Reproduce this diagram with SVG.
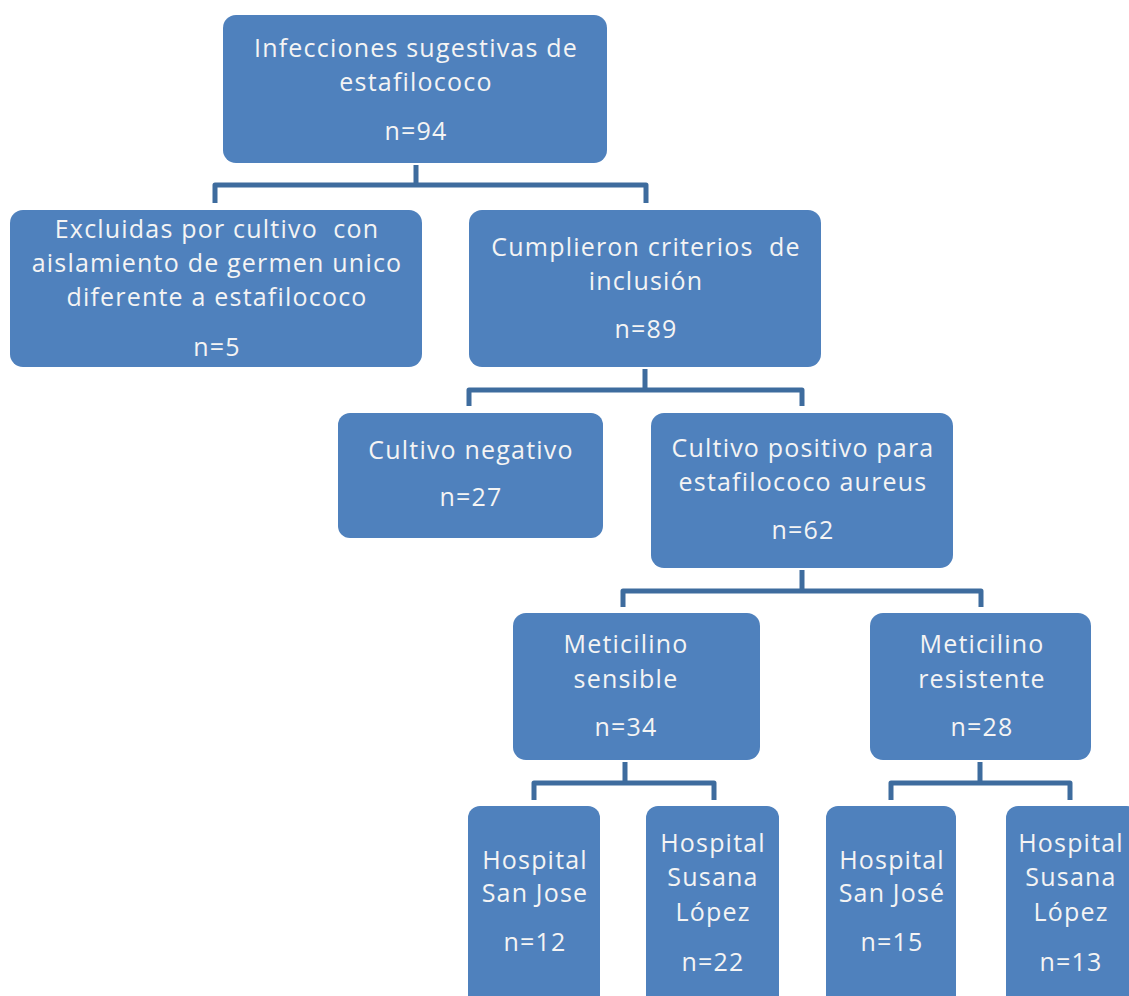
<svg xmlns="http://www.w3.org/2000/svg" width="1129" height="996" viewBox="0 0 1129 996">
  <style>
    .box { fill: #4F81BD; }
    .lbl { fill: #F4F4F4; font-family: "Open Sans", Lato, "Liberation Sans", sans-serif; font-size: 25px; letter-spacing: 1.2px; text-anchor: middle; font-variant-ligatures: none; }
    .conn { fill: none; stroke: #3E6C9E; stroke-width: 5; stroke-linejoin: round; stroke-linecap: butt; }
  </style>
  <rect width="1129" height="996" fill="#FFFFFF"/>

  <!-- bracket connectors: stem from parent, bar, drops to children -->
  <g id="connectors">
    <path class="conn" d="M416 165 V185 M215 203 V185 H646 V203"/>
    <path class="conn" d="M645 369 V390 M469 406 V390 H802 V406"/>
    <path class="conn" d="M802 570 V591 M623 607 V591 H981 V607"/>
    <path class="conn" d="M625 762 V783 M534 800 V783 H714 V800"/>
    <path class="conn" d="M980 762 V783 M891 800 V783 H1070 V800"/>
  </g>

  <g id="n-infecciones">
    <rect class="box" x="223" y="15" width="384" height="148" rx="13"/>
    <text class="lbl" x="416" y="57">Infecciones sugestivas de</text>
    <text class="lbl" x="416" y="91">estafilococo</text>
    <text class="lbl" x="416" y="140">n=94</text>
  </g>

  <g id="n-excluidas">
    <rect class="box" x="10" y="210" width="412" height="157" rx="13"/>
    <text class="lbl" x="217" y="238">Excluidas por cultivo&#160; con</text>
    <text class="lbl" x="217" y="272">aislamiento de germen unico</text>
    <text class="lbl" x="217" y="306">diferente a estafilococo</text>
    <text class="lbl" x="217" y="356">n=5</text>
  </g>

  <g id="n-cumplieron">
    <rect class="box" x="469" y="210" width="352" height="157" rx="13"/>
    <text class="lbl" x="646" y="256">Cumplieron criterios&#160; de</text>
    <text class="lbl" x="646" y="290">inclusión</text>
    <text class="lbl" x="646" y="338">n=89</text>
  </g>

  <g id="n-negativo">
    <rect class="box" x="338" y="413" width="265" height="125" rx="12"/>
    <text class="lbl" x="471" y="459">Cultivo negativo</text>
    <text class="lbl" x="471" y="506">n=27</text>
  </g>

  <g id="n-positivo">
    <rect class="box" x="651" y="413" width="302" height="155" rx="13"/>
    <text class="lbl" x="803" y="457">Cultivo positivo para</text>
    <text class="lbl" x="803" y="491">estafilococo aureus</text>
    <text class="lbl" x="803" y="539">n=62</text>
  </g>

  <g id="n-sensible">
    <rect class="box" x="513" y="613" width="247" height="147" rx="13"/>
    <text class="lbl" x="626" y="653">Meticilino</text>
    <text class="lbl" x="626" y="688">sensible</text>
    <text class="lbl" x="626" y="736">n=34</text>
  </g>

  <g id="n-resistente">
    <rect class="box" x="870" y="613" width="221" height="147" rx="13"/>
    <text class="lbl" x="982" y="653">Meticilino</text>
    <text class="lbl" x="982" y="688">resistente</text>
    <text class="lbl" x="982" y="736">n=28</text>
  </g>

  <g id="n-sms-sanjose">
    <rect class="box" x="468" y="806" width="132" height="210" rx="12"/>
    <text class="lbl" x="535" y="869">Hospital</text>
    <text class="lbl" x="535" y="902">San Jose</text>
    <text class="lbl" x="535" y="951">n=12</text>
  </g>

  <g id="n-sms-susana">
    <rect class="box" x="646" y="806" width="133" height="210" rx="12"/>
    <text class="lbl" x="713" y="852">Hospital</text>
    <text class="lbl" x="713" y="886">Susana</text>
    <text class="lbl" x="713" y="921">López</text>
    <text class="lbl" x="713" y="971">n=22</text>
  </g>

  <g id="n-smr-sanjose">
    <rect class="box" x="826" y="806" width="130" height="210" rx="12"/>
    <text class="lbl" x="892" y="869">Hospital</text>
    <text class="lbl" x="892" y="902">San José</text>
    <text class="lbl" x="892" y="951">n=15</text>
  </g>

  <g id="n-smr-susana">
    <rect class="box" x="1006" y="806" width="133" height="210" rx="12"/>
    <text class="lbl" x="1071" y="852">Hospital</text>
    <text class="lbl" x="1071" y="886">Susana</text>
    <text class="lbl" x="1071" y="921">López</text>
    <text class="lbl" x="1071" y="971">n=13</text>
  </g>
</svg>
